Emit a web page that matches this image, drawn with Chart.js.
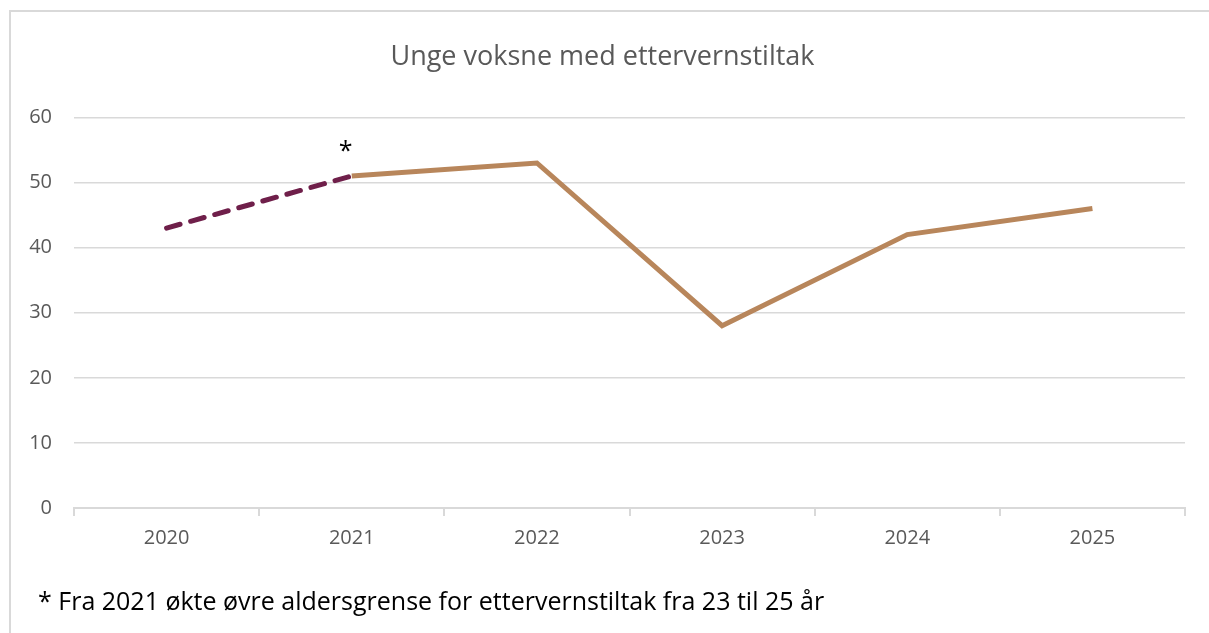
<!DOCTYPE html>
<html>
<head>
<meta charset="utf-8">
<script src="https://cdn.jsdelivr.net/npm/chart.js@4"></script>
<style>
  html, body { margin: 0; padding: 0; background: #fff; overflow: hidden; }
  #frame { position: absolute; left: 9px; top: 10px; width: 1240px; height: 660px; border: 2px solid #d9d9d9; box-sizing: border-box; }
  #wrap { position: absolute; left: 0; top: 0; width: 1209px; height: 633px; }
</style>
</head>
<body>
<div id="frame"></div>
<div id="wrap"><canvas id="myChart" width="1209" height="633"></canvas></div>
<script>
// Data
var years = ['2020', '2021', '2022', '2023', '2024', '2025'];
var gammelGrense = [43, 51, null, null, null, null];   // før 2021 (til 23 år)
var nyGrense = [null, 51, 53, 28, 42, 46];             // fra 2021 (til 25 år)
var yTicks = [0, 10, 20, 30, 40, 50, 60];
var fotnote = '* Fra 2021 økte øvre aldersgrense for ettervernstiltak fra 23 til 25 år';

var fontName = '"Open Sans", "Noto Sans", sans-serif';

// Stjerne over 2021-punktet og fotnote nederst
var noteplugin = {
  id: 'notes',
  afterDraw: function(chart) {
    var c = chart.ctx;
    var xs = chart.scales.x, ys = chart.scales.y;
    c.save();
    c.fillStyle = '#000';
    c.font = '25px ' + fontName;
    c.textAlign = 'center';
    c.textBaseline = 'middle';
    c.fillText('*', xs.getPixelForValue(1) - 6, ys.getPixelForValue(51) - 24);
    c.textAlign = 'left';
    c.font = '25px ' + fontName;
    c.fillText(fotnote, 38, 603);
    c.restore();
  }
};

var ctx = document.getElementById('myChart').getContext('2d');
var myChart = new Chart(ctx, {
  type: 'line',
  data: {
    labels: years,
    datasets: [{
      data: gammelGrense,
      borderColor: '#6f1f4a',
      borderWidth: 5,
      borderDash: [14, 11],
      borderCapStyle: 'round',
      pointRadius: 0,
      tension: 0
    }, {
      data: nyGrense,
      borderColor: '#b8865b',
      borderWidth: 5,
      pointRadius: 0,
      tension: 0
    }]
  },
  options: {
    responsive: false,
    animation: false,
    layout: { padding: { left: 20, right: 24, top: 0, bottom: 75 } },
    plugins: {
      legend: { display: false },
      tooltip: { enabled: false },
      title: {
        display: true,
        text: 'Unge voksne med ettervernstiltak',
        color: '#595959',
        font: { family: fontName, size: 27, weight: 'normal' },
        padding: { top: 41, bottom: 44 }
      }
    },
    scales: {
      x: {
        offset: true,
        grid: { offset: true, drawOnChartArea: false, color: '#d9d9d9', tickLength: 8, lineWidth: 2 },
        border: { color: '#d9d9d9', width: 2 },
        ticks: { color: '#595959', font: { family: fontName, size: 20 }, padding: 10, maxRotation: 0 },
        afterFit: function(s) { s.height = 50; }
      },
      y: {
        min: 0,
        max: 60,
        afterBuildTicks: function(s) { s.ticks = yTicks.map(function(v) { return { value: v }; }); },
        grid: { color: '#d9d9d9', lineWidth: 1.5, drawTicks: false },
        border: { display: false },
        ticks: { color: '#595959', font: { family: fontName, size: 20 }, padding: 22 },
        afterFit: function(s) { s.width = 54; }
      }
    }
  },
  plugins: [noteplugin]
});
</script>
</body>
</html>
